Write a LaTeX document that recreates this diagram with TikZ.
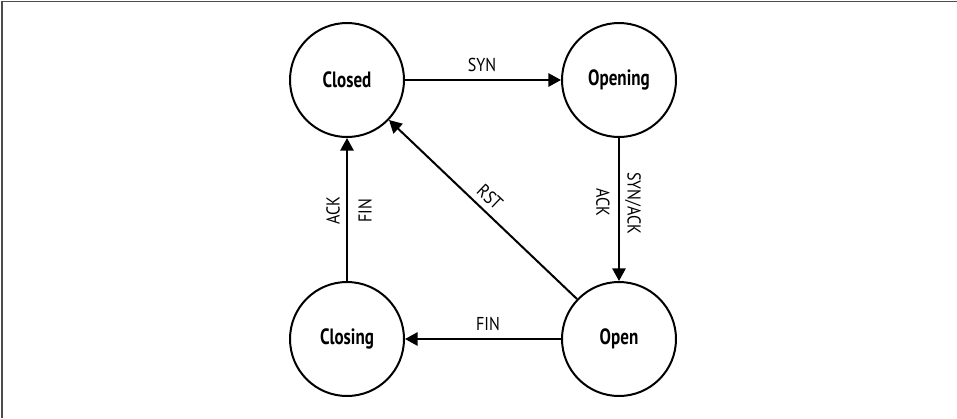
\documentclass[tikz,border=0pt]{standalone}
\usepackage{fontspec}
\setmainfont{PT Sans}
\newfontfamily\statefont{PT Sans}[FakeStretch=0.77]
\newfontfamily\edgefont{PT Sans}[FakeStretch=0.86]
\usetikzlibrary{arrows.meta}

\begin{document}
\begin{tikzpicture}[x=0.75pt,y=-0.75pt,
  state/.style={circle,draw,line width=1.5pt,minimum size=85.5pt,inner sep=0pt,
    font=\statefont\bfseries\fontsize{16.6}{19}\selectfont},
  trans/.style={line width=1.5pt,-{Triangle[length=9.5pt,width=10pt]}},
  lbl/.style={inner sep=0pt,font=\edgefont\fontsize{14}{16}\selectfont},
  frame/.style={draw=black!70,line width=1.2pt}]

  \useasboundingbox (0,0) rectangle (957,418);
  % page frame: top and left edges
  \draw[frame] (957,1.5) -- (2,1.5) -- (2,418);

  % states
  \node[state] (closed)  at (347,80)  {Closed};
  \node[state] (opening) at (619,80)  {Opening};
  \node[state] (closing) at (347,339) {Closing};
  \node[state] (open)    at (619,339) {Open};

  % transitions
  \draw[trans] (closed)  -- (opening);
  \draw[trans] (opening) -- (open);
  \draw[trans] (open)    -- (closing);
  \draw[trans] (closing) -- (closed);
  \draw[trans] (open)    -- (closed);

  % transition labels
  \node[lbl] (lsyn) at (482,65) {SYN};
  \node[lbl,rotate=-90] (lsynack) at (633,203) {SYN/ACK};
  \node[lbl,rotate=-90] (lackr) at (603,202) {ACK};
  \node[lbl] (lfin) at (488,324) {FIN};
  \node[lbl,rotate=90] (lackl) at (333,211) {ACK};
  \node[lbl,rotate=90] (lfinl) at (365,211) {FIN};
  \node[lbl,rotate=-43.6] (lrst) at (490,197) {RST};
\end{tikzpicture}
\end{document}
